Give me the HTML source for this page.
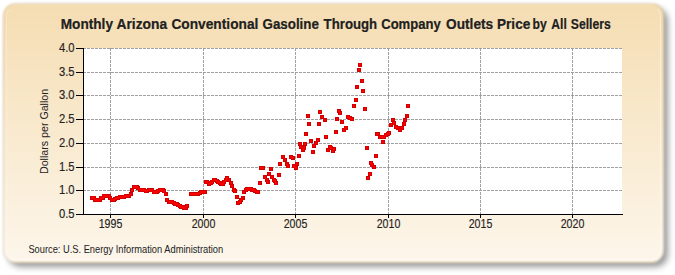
<!DOCTYPE html>
<html><head><meta charset="utf-8"><style>
html,body{margin:0;padding:0;background:#fff;width:675px;height:275px;overflow:hidden}
.shadow{position:absolute;left:8px;top:8px;width:660px;height:259px;border-radius:13px;background:rgba(0,0,0,0.40);filter:blur(3px);}
.card{position:absolute;left:3px;top:3px;width:659px;height:258px;border-radius:13px;border:1px solid rgba(150,130,90,0.25);
background:linear-gradient(to bottom,#F5DDB2 0%,#F9EACF 50%,#FDF6EB 100%);filter:blur(1.2px);}
.hl{position:absolute;left:6px;top:6px;width:653px;height:252px;border-radius:10px;border:1px solid rgba(255,255,255,0.4);border-top-color:transparent;border-left-color:rgba(255,255,255,0.25);}
svg{position:absolute;left:0;top:0}
text{font-family:"Liberation Sans",sans-serif;fill:#222}
</style></head><body>
<div class="shadow"></div><div class="card"></div><div class="hl"></div>
<svg width="675" height="275" viewBox="0 0 675 275">
<g style="font-weight:bold;font-size:14.3px;fill:#111;stroke:#111;stroke-width:0.2px"><text x="60.7" y="28.8" textLength="52.3" lengthAdjust="spacingAndGlyphs">Monthly</text><text x="116.5" y="28.8" textLength="50.7" lengthAdjust="spacingAndGlyphs">Arizona</text><text x="171.4" y="28.8" textLength="87.0" lengthAdjust="spacingAndGlyphs">Conventional</text><text x="262.5" y="28.8" textLength="56.42" lengthAdjust="spacingAndGlyphs">Gasoline</text><text x="323.6" y="28.8" textLength="53.6" lengthAdjust="spacingAndGlyphs">Through</text><text x="381.2" y="28.8" textLength="59.54" lengthAdjust="spacingAndGlyphs">Company</text><text x="446.1" y="28.8" textLength="47.03" lengthAdjust="spacingAndGlyphs">Outlets</text><text x="497.0" y="28.8" textLength="33.27" lengthAdjust="spacingAndGlyphs">Price</text><text x="532.6" y="28.8" textLength="14.18" lengthAdjust="spacingAndGlyphs">by</text><text x="551.3" y="28.8" textLength="15.48" lengthAdjust="spacingAndGlyphs">All</text><text x="570.8" y="28.8" textLength="39.9" lengthAdjust="spacingAndGlyphs">Sellers</text></g>
<rect x="84" y="48" width="538" height="166" fill="#fff"/>
<g stroke="#a0a0a0" stroke-width="1" stroke-dasharray="3,1"><line x1="83" y1="48.5" x2="622" y2="48.5"/><line x1="83" y1="72.5" x2="622" y2="72.5"/><line x1="83" y1="95.5" x2="622" y2="95.5"/><line x1="83" y1="119.5" x2="622" y2="119.5"/><line x1="83" y1="143.5" x2="622" y2="143.5"/><line x1="83" y1="167.5" x2="622" y2="167.5"/><line x1="83" y1="190.5" x2="622" y2="190.5"/><line x1="110.5" y1="48" x2="110.5" y2="214"/><line x1="203.5" y1="48" x2="203.5" y2="214"/><line x1="295.5" y1="48" x2="295.5" y2="214"/><line x1="388.5" y1="48" x2="388.5" y2="214"/><line x1="480.5" y1="48" x2="480.5" y2="214"/><line x1="572.5" y1="48" x2="572.5" y2="214"/></g>
<g stroke="#000" stroke-width="1"><line x1="76" y1="48.5" x2="84" y2="48.5"/><line x1="76" y1="72.5" x2="84" y2="72.5"/><line x1="76" y1="95.5" x2="84" y2="95.5"/><line x1="76" y1="119.5" x2="84" y2="119.5"/><line x1="76" y1="143.5" x2="84" y2="143.5"/><line x1="76" y1="167.5" x2="84" y2="167.5"/><line x1="76" y1="190.5" x2="84" y2="190.5"/><line x1="76" y1="214.5" x2="84" y2="214.5"/><line x1="110.5" y1="214" x2="110.5" y2="218"/><line x1="203.5" y1="214" x2="203.5" y2="218"/><line x1="295.5" y1="214" x2="295.5" y2="218"/><line x1="388.5" y1="214" x2="388.5" y2="218"/><line x1="480.5" y1="214" x2="480.5" y2="218"/><line x1="572.5" y1="214" x2="572.5" y2="218"/><line x1="83.5" y1="48" x2="83.5" y2="214.5"/><line x1="76" y1="214.5" x2="623" y2="214.5"/></g>
<g style="font-size:12px;stroke:#222;stroke-width:0.15px"><text x="74.6" y="52.1" text-anchor="end" textLength="15.6" lengthAdjust="spacingAndGlyphs">4.0</text><text x="74.6" y="76.1" text-anchor="end" textLength="15.6" lengthAdjust="spacingAndGlyphs">3.5</text><text x="74.6" y="99.1" text-anchor="end" textLength="15.6" lengthAdjust="spacingAndGlyphs">3.0</text><text x="74.6" y="123.1" text-anchor="end" textLength="15.6" lengthAdjust="spacingAndGlyphs">2.5</text><text x="74.6" y="147.1" text-anchor="end" textLength="15.6" lengthAdjust="spacingAndGlyphs">2.0</text><text x="74.6" y="171.1" text-anchor="end" textLength="15.6" lengthAdjust="spacingAndGlyphs">1.5</text><text x="74.6" y="194.1" text-anchor="end" textLength="15.6" lengthAdjust="spacingAndGlyphs">1.0</text><text x="74.6" y="218.1" text-anchor="end" textLength="15.6" lengthAdjust="spacingAndGlyphs">0.5</text><text x="110.5" y="227.7" text-anchor="middle" textLength="23.6" lengthAdjust="spacingAndGlyphs">1995</text><text x="203.5" y="227.7" text-anchor="middle" textLength="23.6" lengthAdjust="spacingAndGlyphs">2000</text><text x="295.5" y="227.7" text-anchor="middle" textLength="23.6" lengthAdjust="spacingAndGlyphs">2005</text><text x="388.5" y="227.7" text-anchor="middle" textLength="23.6" lengthAdjust="spacingAndGlyphs">2010</text><text x="480.5" y="227.7" text-anchor="middle" textLength="23.6" lengthAdjust="spacingAndGlyphs">2015</text><text x="572.5" y="227.7" text-anchor="middle" textLength="23.6" lengthAdjust="spacingAndGlyphs">2020</text></g>
<text transform="translate(47.6,174) rotate(-90)" textLength="85.2" lengthAdjust="spacingAndGlyphs" style="font-size:11px">Dollars per Gallon</text>
<g fill="#D00000" shape-rendering="crispEdges"><rect x="90" y="196" width="4" height="4"/><rect x="92" y="196" width="4" height="4"/><rect x="93" y="198" width="4" height="4"/><rect x="95" y="198" width="4" height="4"/><rect x="96" y="198" width="4" height="4"/><rect x="98" y="198" width="4" height="4"/><rect x="99" y="196" width="4" height="4"/><rect x="101" y="196" width="4" height="4"/><rect x="102" y="194" width="4" height="4"/><rect x="104" y="194" width="4" height="4"/><rect x="105" y="194" width="4" height="4"/><rect x="107" y="194" width="4" height="4"/><rect x="108" y="196" width="4" height="4"/><rect x="110" y="198" width="4" height="4"/><rect x="112" y="198" width="4" height="4"/><rect x="113" y="197" width="4" height="4"/><rect x="115" y="196" width="4" height="4"/><rect x="116" y="196" width="4" height="4"/><rect x="118" y="195" width="4" height="4"/><rect x="119" y="195" width="4" height="4"/><rect x="121" y="195" width="4" height="4"/><rect x="122" y="195" width="4" height="4"/><rect x="124" y="194" width="4" height="4"/><rect x="125" y="194" width="4" height="4"/><rect x="127" y="194" width="4" height="4"/><rect x="129" y="192" width="4" height="4"/><rect x="130" y="188" width="4" height="4"/><rect x="132" y="185" width="4" height="4"/><rect x="133" y="185" width="4" height="4"/><rect x="135" y="185" width="4" height="4"/><rect x="136" y="186" width="4" height="4"/><rect x="138" y="188" width="4" height="4"/><rect x="139" y="188" width="4" height="4"/><rect x="141" y="188" width="4" height="4"/><rect x="142" y="188" width="4" height="4"/><rect x="144" y="189" width="4" height="4"/><rect x="145" y="189" width="4" height="4"/><rect x="147" y="188" width="4" height="4"/><rect x="149" y="188" width="4" height="4"/><rect x="150" y="188" width="4" height="4"/><rect x="152" y="190" width="4" height="4"/><rect x="153" y="190" width="4" height="4"/><rect x="155" y="190" width="4" height="4"/><rect x="156" y="189" width="4" height="4"/><rect x="158" y="188" width="4" height="4"/><rect x="159" y="188" width="4" height="4"/><rect x="161" y="188" width="4" height="4"/><rect x="162" y="189" width="4" height="4"/><rect x="164" y="192" width="4" height="4"/><rect x="165" y="198" width="4" height="4"/><rect x="167" y="200" width="4" height="4"/><rect x="169" y="200" width="4" height="4"/><rect x="170" y="200" width="4" height="4"/><rect x="172" y="201" width="4" height="4"/><rect x="173" y="202" width="4" height="4"/><rect x="175" y="202" width="4" height="4"/><rect x="176" y="203" width="4" height="4"/><rect x="178" y="204" width="4" height="4"/><rect x="179" y="205" width="4" height="4"/><rect x="181" y="205" width="4" height="4"/><rect x="182" y="206" width="4" height="4"/><rect x="184" y="206" width="4" height="4"/><rect x="185" y="204" width="4" height="4"/><rect x="204" y="180" width="4" height="4"/><rect x="205" y="180" width="4" height="4"/><rect x="207" y="182" width="4" height="4"/><rect x="209" y="181" width="4" height="4"/><rect x="210" y="180" width="4" height="4"/><rect x="212" y="178" width="4" height="4"/><rect x="213" y="178" width="4" height="4"/><rect x="215" y="179" width="4" height="4"/><rect x="216" y="180" width="4" height="4"/><rect x="218" y="181" width="4" height="4"/><rect x="219" y="182" width="4" height="4"/><rect x="221" y="182" width="4" height="4"/><rect x="222" y="180" width="4" height="4"/><rect x="224" y="178" width="4" height="4"/><rect x="225" y="176" width="4" height="4"/><rect x="227" y="178" width="4" height="4"/><rect x="229" y="181" width="4" height="4"/><rect x="230" y="184" width="4" height="4"/><rect x="232" y="188" width="4" height="4"/><rect x="233" y="189" width="4" height="4"/><rect x="235" y="195" width="4" height="4"/><rect x="236" y="201" width="4" height="4"/><rect x="238" y="200" width="4" height="4"/><rect x="239" y="198" width="4" height="4"/><rect x="241" y="196" width="4" height="4"/><rect x="242" y="190" width="4" height="4"/><rect x="244" y="188" width="4" height="4"/><rect x="245" y="187" width="4" height="4"/><rect x="247" y="187" width="4" height="4"/><rect x="249" y="187" width="4" height="4"/><rect x="250" y="188" width="4" height="4"/><rect x="252" y="188" width="4" height="4"/><rect x="253" y="189" width="4" height="4"/><rect x="255" y="190" width="4" height="4"/><rect x="256" y="190" width="4" height="4"/><rect x="189" y="192" width="4" height="4"/><rect x="191" y="192" width="4" height="4"/><rect x="192" y="192" width="4" height="4"/><rect x="193" y="192" width="4" height="4"/><rect x="195" y="192" width="4" height="4"/><rect x="196" y="192" width="4" height="4"/><rect x="198" y="191" width="4" height="4"/><rect x="199" y="190" width="4" height="4"/><rect x="200" y="190" width="4" height="4"/><rect x="202" y="190" width="4" height="4"/><rect x="203" y="190" width="4" height="4"/><rect x="258" y="181" width="4" height="4"/><rect x="259" y="166" width="4" height="4"/><rect x="261" y="166" width="4" height="4"/><rect x="263" y="175" width="4" height="4"/><rect x="265" y="178" width="4" height="4"/><rect x="266" y="180" width="4" height="4"/><rect x="267" y="172" width="4" height="4"/><rect x="269" y="167" width="4" height="4"/><rect x="270" y="175" width="4" height="4"/><rect x="272" y="178" width="4" height="4"/><rect x="273" y="179" width="4" height="4"/><rect x="274" y="181" width="4" height="4"/><rect x="277" y="173" width="4" height="4"/><rect x="278" y="162" width="4" height="4"/><rect x="281" y="155" width="4" height="4"/><rect x="283" y="158" width="4" height="4"/><rect x="285" y="162" width="4" height="4"/><rect x="286" y="164" width="4" height="4"/><rect x="289" y="155" width="4" height="4"/><rect x="291" y="156" width="4" height="4"/><rect x="292" y="164" width="4" height="4"/><rect x="294" y="166" width="4" height="4"/><rect x="295" y="162" width="4" height="4"/><rect x="297" y="154" width="4" height="4"/><rect x="298" y="142" width="4" height="4"/><rect x="299" y="145" width="4" height="4"/><rect x="301" y="148" width="4" height="4"/><rect x="302" y="146" width="4" height="4"/><rect x="303" y="142" width="4" height="4"/><rect x="304" y="132" width="4" height="4"/><rect x="306" y="114" width="4" height="4"/><rect x="307" y="122" width="4" height="4"/><rect x="309" y="139" width="4" height="4"/><rect x="311" y="150" width="4" height="4"/><rect x="312" y="144" width="4" height="4"/><rect x="314" y="141" width="4" height="4"/><rect x="316" y="138" width="4" height="4"/><rect x="317" y="122" width="4" height="4"/><rect x="318" y="110" width="4" height="4"/><rect x="320" y="115" width="4" height="4"/><rect x="323" y="118" width="4" height="4"/><rect x="324" y="135" width="4" height="4"/><rect x="326" y="148" width="4" height="4"/><rect x="328" y="145" width="4" height="4"/><rect x="329" y="146" width="4" height="4"/><rect x="331" y="149" width="4" height="4"/><rect x="332" y="147" width="4" height="4"/><rect x="334" y="130" width="4" height="4"/><rect x="335" y="117" width="4" height="4"/><rect x="337" y="109" width="4" height="4"/><rect x="338" y="111" width="4" height="4"/><rect x="340" y="120" width="4" height="4"/><rect x="342" y="128" width="4" height="4"/><rect x="344" y="126" width="4" height="4"/><rect x="346" y="115" width="4" height="4"/><rect x="348" y="116" width="4" height="4"/><rect x="350" y="117" width="4" height="4"/><rect x="352" y="104" width="4" height="4"/><rect x="354" y="98" width="4" height="4"/><rect x="355" y="85" width="4" height="4"/><rect x="357" y="68" width="4" height="4"/><rect x="358" y="63" width="4" height="4"/><rect x="360" y="79" width="4" height="4"/><rect x="361" y="89" width="4" height="4"/><rect x="363" y="107" width="4" height="4"/><rect x="365" y="146" width="4" height="4"/><rect x="366" y="176" width="4" height="4"/><rect x="368" y="172" width="4" height="4"/><rect x="369" y="161" width="4" height="4"/><rect x="370" y="163" width="4" height="4"/><rect x="372" y="165" width="4" height="4"/><rect x="374" y="154" width="4" height="4"/><rect x="375" y="132" width="4" height="4"/><rect x="376" y="132" width="4" height="4"/><rect x="378" y="135" width="4" height="4"/><rect x="380" y="135" width="4" height="4"/><rect x="381" y="140" width="4" height="4"/><rect x="382" y="135" width="4" height="4"/><rect x="384" y="133" width="4" height="4"/><rect x="386" y="132" width="4" height="4"/><rect x="387" y="131" width="4" height="4"/><rect x="389" y="123" width="4" height="4"/><rect x="391" y="118" width="4" height="4"/><rect x="392" y="121" width="4" height="4"/><rect x="394" y="125" width="4" height="4"/><rect x="396" y="126" width="4" height="4"/><rect x="398" y="128" width="4" height="4"/><rect x="400" y="126" width="4" height="4"/><rect x="402" y="122" width="4" height="4"/><rect x="403" y="118" width="4" height="4"/><rect x="405" y="114" width="4" height="4"/><rect x="406" y="104" width="4" height="4"/></g><g fill="#FF0000" shape-rendering="crispEdges"><rect x="91" y="197" width="2" height="2"/><rect x="93" y="197" width="2" height="2"/><rect x="94" y="199" width="2" height="2"/><rect x="96" y="199" width="2" height="2"/><rect x="97" y="199" width="2" height="2"/><rect x="99" y="199" width="2" height="2"/><rect x="100" y="197" width="2" height="2"/><rect x="102" y="197" width="2" height="2"/><rect x="103" y="195" width="2" height="2"/><rect x="105" y="195" width="2" height="2"/><rect x="106" y="195" width="2" height="2"/><rect x="108" y="195" width="2" height="2"/><rect x="109" y="197" width="2" height="2"/><rect x="111" y="199" width="2" height="2"/><rect x="113" y="199" width="2" height="2"/><rect x="114" y="198" width="2" height="2"/><rect x="116" y="197" width="2" height="2"/><rect x="117" y="197" width="2" height="2"/><rect x="119" y="196" width="2" height="2"/><rect x="120" y="196" width="2" height="2"/><rect x="122" y="196" width="2" height="2"/><rect x="123" y="196" width="2" height="2"/><rect x="125" y="195" width="2" height="2"/><rect x="126" y="195" width="2" height="2"/><rect x="128" y="195" width="2" height="2"/><rect x="130" y="193" width="2" height="2"/><rect x="131" y="189" width="2" height="2"/><rect x="133" y="186" width="2" height="2"/><rect x="134" y="186" width="2" height="2"/><rect x="136" y="186" width="2" height="2"/><rect x="137" y="187" width="2" height="2"/><rect x="139" y="189" width="2" height="2"/><rect x="140" y="189" width="2" height="2"/><rect x="142" y="189" width="2" height="2"/><rect x="143" y="189" width="2" height="2"/><rect x="145" y="190" width="2" height="2"/><rect x="146" y="190" width="2" height="2"/><rect x="148" y="189" width="2" height="2"/><rect x="150" y="189" width="2" height="2"/><rect x="151" y="189" width="2" height="2"/><rect x="153" y="191" width="2" height="2"/><rect x="154" y="191" width="2" height="2"/><rect x="156" y="191" width="2" height="2"/><rect x="157" y="190" width="2" height="2"/><rect x="159" y="189" width="2" height="2"/><rect x="160" y="189" width="2" height="2"/><rect x="162" y="189" width="2" height="2"/><rect x="163" y="190" width="2" height="2"/><rect x="165" y="193" width="2" height="2"/><rect x="166" y="199" width="2" height="2"/><rect x="168" y="201" width="2" height="2"/><rect x="170" y="201" width="2" height="2"/><rect x="171" y="201" width="2" height="2"/><rect x="173" y="202" width="2" height="2"/><rect x="174" y="203" width="2" height="2"/><rect x="176" y="203" width="2" height="2"/><rect x="177" y="204" width="2" height="2"/><rect x="179" y="205" width="2" height="2"/><rect x="180" y="206" width="2" height="2"/><rect x="182" y="206" width="2" height="2"/><rect x="183" y="207" width="2" height="2"/><rect x="185" y="207" width="2" height="2"/><rect x="186" y="205" width="2" height="2"/><rect x="205" y="181" width="2" height="2"/><rect x="206" y="181" width="2" height="2"/><rect x="208" y="183" width="2" height="2"/><rect x="210" y="182" width="2" height="2"/><rect x="211" y="181" width="2" height="2"/><rect x="213" y="179" width="2" height="2"/><rect x="214" y="179" width="2" height="2"/><rect x="216" y="180" width="2" height="2"/><rect x="217" y="181" width="2" height="2"/><rect x="219" y="182" width="2" height="2"/><rect x="220" y="183" width="2" height="2"/><rect x="222" y="183" width="2" height="2"/><rect x="223" y="181" width="2" height="2"/><rect x="225" y="179" width="2" height="2"/><rect x="226" y="177" width="2" height="2"/><rect x="228" y="179" width="2" height="2"/><rect x="230" y="182" width="2" height="2"/><rect x="231" y="185" width="2" height="2"/><rect x="233" y="189" width="2" height="2"/><rect x="234" y="190" width="2" height="2"/><rect x="236" y="196" width="2" height="2"/><rect x="237" y="202" width="2" height="2"/><rect x="239" y="201" width="2" height="2"/><rect x="240" y="199" width="2" height="2"/><rect x="242" y="197" width="2" height="2"/><rect x="243" y="191" width="2" height="2"/><rect x="245" y="189" width="2" height="2"/><rect x="246" y="188" width="2" height="2"/><rect x="248" y="188" width="2" height="2"/><rect x="250" y="188" width="2" height="2"/><rect x="251" y="189" width="2" height="2"/><rect x="253" y="189" width="2" height="2"/><rect x="254" y="190" width="2" height="2"/><rect x="256" y="191" width="2" height="2"/><rect x="257" y="191" width="2" height="2"/><rect x="190" y="193" width="2" height="2"/><rect x="192" y="193" width="2" height="2"/><rect x="193" y="193" width="2" height="2"/><rect x="194" y="193" width="2" height="2"/><rect x="196" y="193" width="2" height="2"/><rect x="197" y="193" width="2" height="2"/><rect x="199" y="192" width="2" height="2"/><rect x="200" y="191" width="2" height="2"/><rect x="201" y="191" width="2" height="2"/><rect x="203" y="191" width="2" height="2"/><rect x="204" y="191" width="2" height="2"/><rect x="259" y="182" width="2" height="2"/><rect x="260" y="167" width="2" height="2"/><rect x="262" y="167" width="2" height="2"/><rect x="264" y="176" width="2" height="2"/><rect x="266" y="179" width="2" height="2"/><rect x="267" y="181" width="2" height="2"/><rect x="268" y="173" width="2" height="2"/><rect x="270" y="168" width="2" height="2"/><rect x="271" y="176" width="2" height="2"/><rect x="273" y="179" width="2" height="2"/><rect x="274" y="180" width="2" height="2"/><rect x="275" y="182" width="2" height="2"/><rect x="278" y="174" width="2" height="2"/><rect x="279" y="163" width="2" height="2"/><rect x="282" y="156" width="2" height="2"/><rect x="284" y="159" width="2" height="2"/><rect x="286" y="163" width="2" height="2"/><rect x="287" y="165" width="2" height="2"/><rect x="290" y="156" width="2" height="2"/><rect x="292" y="157" width="2" height="2"/><rect x="293" y="165" width="2" height="2"/><rect x="295" y="167" width="2" height="2"/><rect x="296" y="163" width="2" height="2"/><rect x="298" y="155" width="2" height="2"/><rect x="299" y="143" width="2" height="2"/><rect x="300" y="146" width="2" height="2"/><rect x="302" y="149" width="2" height="2"/><rect x="303" y="147" width="2" height="2"/><rect x="304" y="143" width="2" height="2"/><rect x="305" y="133" width="2" height="2"/><rect x="307" y="115" width="2" height="2"/><rect x="308" y="123" width="2" height="2"/><rect x="310" y="140" width="2" height="2"/><rect x="312" y="151" width="2" height="2"/><rect x="313" y="145" width="2" height="2"/><rect x="315" y="142" width="2" height="2"/><rect x="317" y="139" width="2" height="2"/><rect x="318" y="123" width="2" height="2"/><rect x="319" y="111" width="2" height="2"/><rect x="321" y="116" width="2" height="2"/><rect x="324" y="119" width="2" height="2"/><rect x="325" y="136" width="2" height="2"/><rect x="327" y="149" width="2" height="2"/><rect x="329" y="146" width="2" height="2"/><rect x="330" y="147" width="2" height="2"/><rect x="332" y="150" width="2" height="2"/><rect x="333" y="148" width="2" height="2"/><rect x="335" y="131" width="2" height="2"/><rect x="336" y="118" width="2" height="2"/><rect x="338" y="110" width="2" height="2"/><rect x="339" y="112" width="2" height="2"/><rect x="341" y="121" width="2" height="2"/><rect x="343" y="129" width="2" height="2"/><rect x="345" y="127" width="2" height="2"/><rect x="347" y="116" width="2" height="2"/><rect x="349" y="117" width="2" height="2"/><rect x="351" y="118" width="2" height="2"/><rect x="353" y="105" width="2" height="2"/><rect x="355" y="99" width="2" height="2"/><rect x="356" y="86" width="2" height="2"/><rect x="358" y="69" width="2" height="2"/><rect x="359" y="64" width="2" height="2"/><rect x="361" y="80" width="2" height="2"/><rect x="362" y="90" width="2" height="2"/><rect x="364" y="108" width="2" height="2"/><rect x="366" y="147" width="2" height="2"/><rect x="367" y="177" width="2" height="2"/><rect x="369" y="173" width="2" height="2"/><rect x="370" y="162" width="2" height="2"/><rect x="371" y="164" width="2" height="2"/><rect x="373" y="166" width="2" height="2"/><rect x="375" y="155" width="2" height="2"/><rect x="376" y="133" width="2" height="2"/><rect x="377" y="133" width="2" height="2"/><rect x="379" y="136" width="2" height="2"/><rect x="381" y="136" width="2" height="2"/><rect x="382" y="141" width="2" height="2"/><rect x="383" y="136" width="2" height="2"/><rect x="385" y="134" width="2" height="2"/><rect x="387" y="133" width="2" height="2"/><rect x="388" y="132" width="2" height="2"/><rect x="390" y="124" width="2" height="2"/><rect x="392" y="119" width="2" height="2"/><rect x="393" y="122" width="2" height="2"/><rect x="395" y="126" width="2" height="2"/><rect x="397" y="127" width="2" height="2"/><rect x="399" y="129" width="2" height="2"/><rect x="401" y="127" width="2" height="2"/><rect x="403" y="123" width="2" height="2"/><rect x="404" y="119" width="2" height="2"/><rect x="406" y="115" width="2" height="2"/><rect x="407" y="105" width="2" height="2"/></g>
<text x="28.4" y="252.8" textLength="194.8" lengthAdjust="spacingAndGlyphs" style="font-size:10.2px">Source: U.S. Energy Information Administration</text>
</svg>
</body></html>
